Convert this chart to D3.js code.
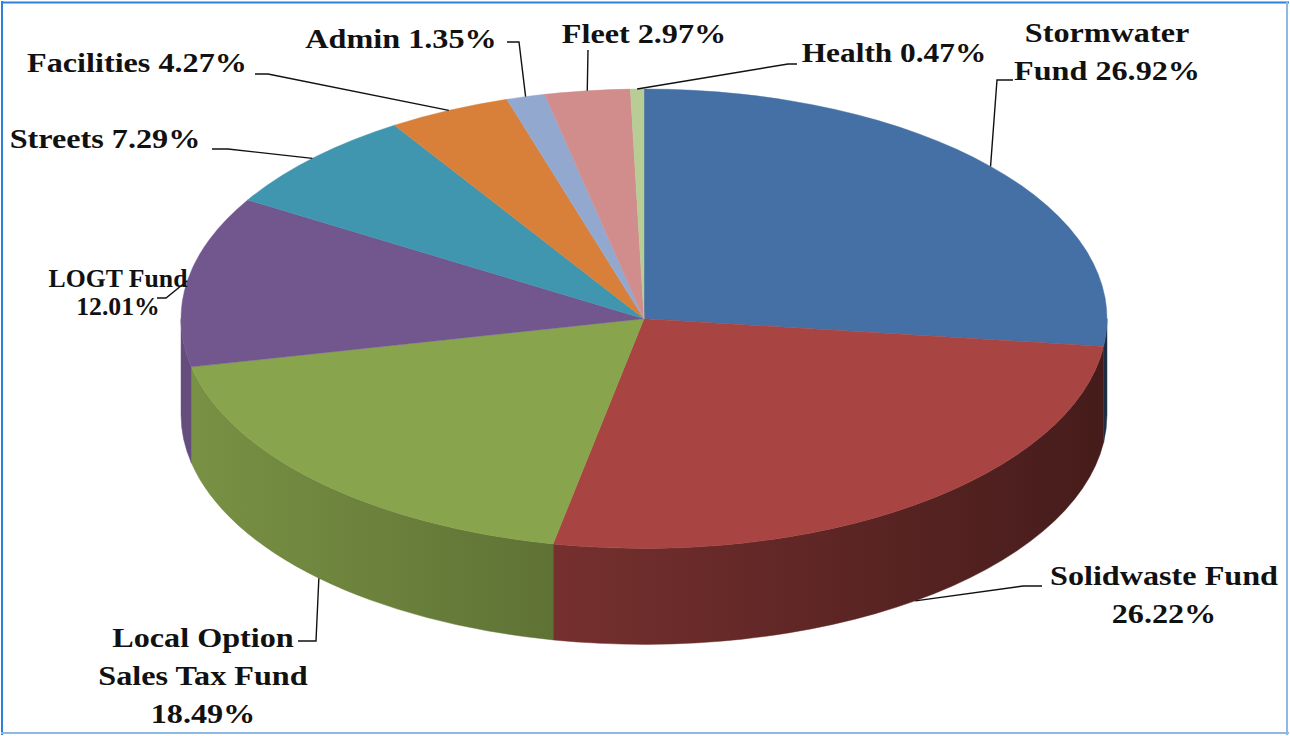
<!DOCTYPE html>
<html><head><meta charset="utf-8">
<script src="https://cdn.jsdelivr.net/npm/d3@7/dist/d3.min.js"></script>
<style>html,body{margin:0;padding:0;background:#fff;}svg{display:block;}</style>
</head><body>
<script>
// ---- data ----
const categories = ["Stormwater Fund","Solidwaste Fund","Local Option Sales Tax Fund","LOGT Fund","Streets","Facilities","Admin","Fleet","Health"];
const values = [26.92, 26.22, 18.49, 12.01, 7.29, 4.27, 1.35, 2.97, 0.47];
const labelLines = [
  ["Stormwater","Fund 26.92%"],
  ["Solidwaste Fund","26.22%"],
  ["Local Option","Sales Tax Fund","18.49%"],
  ["LOGT Fund","12.01%"],
  ["Streets 7.29%"],
  ["Facilities 4.27%"],
  ["Admin 1.35%"],
  ["Fleet 2.97%"],
  ["Health 0.47%"]
];
const colors = ["#4570a5","#a84442","#88a44c","#71578e","#4096ae","#d8803a","#93a8cf","#d08d8c","#b8cd95"];

// ---- layout ----
const W=1290,H=736;
const cx=644, cy=318.7, rx=463, ry=229.7, depth=96;
const D = depth*rx/ry;
const labelLayout = [
  {x:1107,y:42,lh:38,fs:28,sx:1.15},
  {x:1164,y:585,lh:38,fs:28,sx:1.15},
  {x:203,y:647,lh:38,fs:28,sx:1.15},
  {x:118,y:287,lh:28,fs:25,sx:1.03},
  {x:105,y:148,lh:38,fs:28,sx:1.15},
  {x:137,y:72,lh:38,fs:28,sx:1.15},
  {x:401,y:48,lh:38,fs:28,sx:1.15},
  {x:644,y:43,lh:38,fs:28,sx:1.15},
  {x:894,y:62,lh:38,fs:28,sx:1.12}
];
const leaderStart = [
  [[1013,80],[997,80]],
  [[1042,586],[1023,586]],
  [[298,641],[316,641]],
  [[157,298],[166,298]],
  [[212,149],[228,149]],
  [[255,74],[268,74]],
  [[507,42],[519,42]],
  [[588,50]],
  [[797,64],[788,64]]
];

const svg = d3.select("body").append("svg").attr("width",W).attr("height",H);
svg.append("rect").attr("width",W).attr("height",H).attr("fill","#fff");

const defs = svg.append("defs");
function shade(c,f){const r=d3.rgb(c);return d3.rgb(r.r*f,r.g*f,r.b*f).formatHex();}

const pie = d3.pie().sort(null).value(d=>d).startAngle(0).endAngle(2*Math.PI);
const arcs = pie(values);

colors.forEach((c,i)=>{
  const g = defs.append("linearGradient").attr("id","side"+i)
    .attr("gradientUnits","userSpaceOnUse").attr("x1",-rx).attr("x2",rx).attr("y1",0).attr("y2",0);
  g.append("stop").attr("offset",0).attr("stop-color",shade(c,0.89));
  g.append("stop").attr("offset",1).attr("stop-color",shade(c,0.41));
});

const g = svg.append("g").attr("transform",`translate(${cx},${cy}) scale(1,${ry/rx})`);

function sidePath(a0,a1){
  const p=d3.path();
  p.moveTo(rx*Math.sin(a0), -rx*Math.cos(a0));
  p.arc(0,0,rx,a0-Math.PI/2,a1-Math.PI/2,false);
  p.lineTo(rx*Math.sin(a1), -rx*Math.cos(a1)+D);
  p.arc(0,D,rx,a1-Math.PI/2,a0-Math.PI/2,true);
  p.closePath();
  return p.toString();
}
arcs.forEach((a,i)=>{
  const a0=Math.max(a.startAngle,Math.PI/2), a1=Math.min(a.endAngle,3*Math.PI/2);
  if(a0<a1){
    g.append("path").attr("d",sidePath(a0,a1)).attr("fill",`url(#side${i})`)
      .attr("stroke",`url(#side${i})`).attr("stroke-width",0.6);
  }
});
const arcGen = d3.arc().innerRadius(0).outerRadius(rx);
g.selectAll("path.top").data(arcs).enter().append("path").attr("class","top")
  .attr("d",arcGen).attr("fill",(d,i)=>colors[i]).attr("stroke",(d,i)=>colors[i]).attr("stroke-width",0.6);

// leader lines
arcs.forEach((a,i)=>{
  const m=(a.startAngle+a.endAngle)/2;
  let px=cx+rx*Math.sin(m), py=cy-ry*Math.cos(m);
  if(Math.cos(m)<0) py+=depth;
  const pts=leaderStart[i].concat([[px,py]]);
  svg.append("path").attr("d",d3.line()(pts)).attr("fill","none")
    .attr("stroke","#111").attr("stroke-width",1.4);
});

// labels
labelLines.forEach((lines,i)=>{
  const L=labelLayout[i];
  lines.forEach((t,j)=>{
    svg.append("text")
      .attr("transform",`translate(${L.x},${L.y+j*L.lh}) scale(${L.sx},1)`)
      .attr("text-anchor","middle")
      .attr("font-family","'Liberation Serif','Times New Roman',serif")
      .attr("font-weight","bold").attr("font-size",L.fs).attr("fill","#111")
      .text(t);
  });
});

// border
svg.append("line").attr("x1",1).attr("x2",W-1).attr("y1",2.5).attr("y2",2.5).attr("stroke","#2f80d8").attr("stroke-width",2);
svg.append("line").attr("x1",2).attr("x2",2).attr("y1",1).attr("y2",H-1).attr("stroke","#2f80d8").attr("stroke-width",2);
svg.append("line").attr("x1",W-3).attr("x2",W-3).attr("y1",1).attr("y2",H-1).attr("stroke","#8fb9e2").attr("stroke-width",2);
svg.append("line").attr("x1",1).attr("x2",W-1).attr("y1",H-3).attr("y2",H-3).attr("stroke","#8fb9e2").attr("stroke-width",2);
</script>
</body></html>
